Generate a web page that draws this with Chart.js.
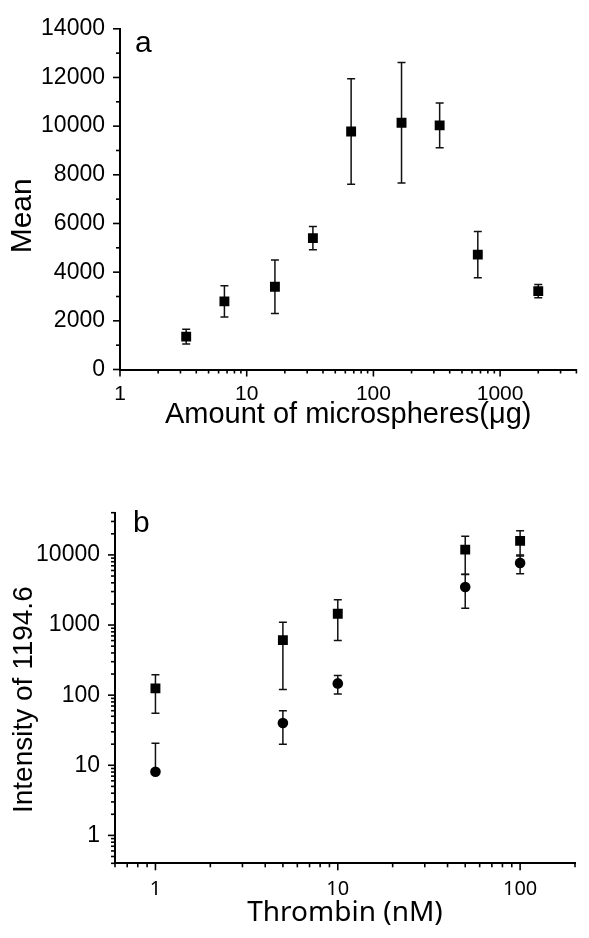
<!DOCTYPE html>
<html>
<head>
<meta charset="utf-8">
<script src="https://cdn.jsdelivr.net/npm/chart.js@4.4.0/dist/chart.umd.min.js"></script>
<style>
  html, body { margin: 0; padding: 0; background: #fff; }
  #wrap-a { position: absolute; left: 0; top: 0; width: 589px; height: 440px; }
  #wrap-b { position: absolute; left: 0; top: 440px; width: 589px; height: 498px; }
</style>
</head>
<body>
<div id="wrap-a"><canvas id="panel-a"></canvas></div>
<div id="wrap-b"><canvas id="panel-b"></canvas></div>
<script>
// panel a: mean vs amount of microspheres
var amount = [3.33, 6.67, 16.7, 33.3, 66.7, 166.7, 333.3, 666.7, 2000];
var meanValues = [1350, 2800, 3400, 5400, 9780, 10140, 10030, 4720, 3220];
var meanErrors = [300, 640, 1100, 480, 2170, 2480, 920, 950, 270];
var meanTicks = [0, 2000, 4000, 6000, 8000, 10000, 12000, 14000];
var amountTicks = [1, 10, 100, 1000];

// panel b: intensity vs thrombin
var thrombin = [1, 5, 10, 50, 100];
var squareValues = [125, 610, 1450, 11900, 15850];
var squareErrors = [70, 490, 850, 6600, 6200];
var circleValues = [8.1, 40, 147, 3490, 7690];
var circleErrors = [12.5, 20, 43, 1750, 2300];
var intensityTicks = [1, 10, 100, 1000, 10000];
var thrombinTicks = [1, 10, 100];

var arial = '"Liberation Sans", Arial, sans-serif';
var noto = '"Noto Sans", sans-serif';

// every 1..9 step of each decade between min and max
function logTicks(min, max) {
  var out = [];
  for (var e = Math.floor(Math.log10(min)); e <= Math.ceil(Math.log10(max)); e++) {
    for (var m = 1; m <= 9; m++) {
      var v = parseFloat((m * Math.pow(10, e)).toPrecision(6));
      if (v >= min * 0.999 && v <= max * 1.001) out.push({ value: v });
    }
  }
  return out;
}

function points(xs, ys) {
  return xs.map(function (x, i) { return { x: x, y: ys[i] }; });
}

var errorBars = {
  id: 'errorBars',
  beforeDatasetsDraw: function (chart) {
    var ctx = chart.ctx, xs = chart.scales.x, ys = chart.scales.y;
    var logY = ys.type === 'logarithmic';
    ctx.save();
    ctx.strokeStyle = '#111';
    ctx.lineWidth = 1.5;
    chart.data.datasets.forEach(function (ds) {
      ds.data.forEach(function (p, i) {
        var e = ds.errors[i];
        var noLow = logY && p.y - e <= 0;
        var px = xs.getPixelForValue(p.x);
        var hi = ys.getPixelForValue(p.y + e);
        var lo = noLow ? ys.getPixelForValue(p.y) : ys.getPixelForValue(p.y - e);
        ctx.beginPath();
        ctx.moveTo(px, hi); ctx.lineTo(px, lo);
        ctx.moveTo(px - 4, hi); ctx.lineTo(px + 4, hi);
        if (!noLow) { ctx.moveTo(px - 4, lo); ctx.lineTo(px + 4, lo); }
        ctx.stroke();
      });
    });
    ctx.restore();
  }
};

// outward ticks, long where there is a label
var tickMarks = {
  id: 'tickMarks',
  afterDraw: function (chart) {
    var ctx = chart.ctx, area = chart.chartArea;
    ctx.save();
    ctx.strokeStyle = '#000';
    ctx.lineWidth = 1.6;
    ['x', 'y'].forEach(function (id) {
      var sc = chart.scales[id];
      sc.ticks.forEach(function (t) {
        var len = t.label !== '' ? 7 : 4;
        var p = sc.getPixelForValue(t.value);
        ctx.beginPath();
        if (id === 'x') { ctx.moveTo(p, area.bottom); ctx.lineTo(p, area.bottom + len); }
        else { ctx.moveTo(area.left, p); ctx.lineTo(area.left - len, p); }
        ctx.stroke();
      });
    });
    ctx.restore();
  }
};

var panelLabel = {
  id: 'panelLabel',
  afterDraw: function (chart, args, opts) {
    var ctx = chart.ctx, area = chart.chartArea;
    ctx.save();
    ctx.fillStyle = '#000';
    ctx.font = '30px ' + arial;
    ctx.textBaseline = 'alphabetic';
    ctx.fillText(opts.text, area.left + opts.dx, area.top + opts.dy);
    ctx.restore();
  }
};

function axisBase() {
  return {
    grid: { display: false, drawTicks: false },
    border: { display: true, color: '#000', width: 2 }
  };
}

new Chart(document.getElementById('panel-a'), {
  type: 'scatter',
  data: {
    datasets: [{
      data: points(amount, meanValues),
      errors: meanErrors,
      pointStyle: 'rect',
      pointRadius: 7,
      backgroundColor: '#000',
      borderColor: '#000',
      borderWidth: 0
    }]
  },
  options: {
    responsive: true,
    maintainAspectRatio: false,
    animation: false,
    layout: { padding: { left: 0, top: 24, right: 1.5, bottom: 0 } },
    plugins: {
      legend: { display: false },
      tooltip: { enabled: false },
      panelLabel: { text: 'a', dx: 15, dy: 23 }
    },
    scales: {
      x: Object.assign(axisBase(), {
        type: 'logarithmic',
        min: 1,
        max: 4000,
        afterBuildTicks: function (s) { s.ticks = logTicks(1, 4000); },
        afterFit: function (s) { s.height = 70.5; },
        ticks: {
          autoSkip: false, maxRotation: 0, padding: 12.6, color: '#000',
          font: { family: arial, size: 21 },
          callback: function (v) { return amountTicks.indexOf(v) >= 0 ? String(v) : ''; }
        },
        title: {
          display: true, text: 'Amount of microspheres(μg)', color: '#000',
          font: { family: arial, size: 29 }, padding: { top: 0, bottom: 8 }
        }
      }),
      y: Object.assign(axisBase(), {
        type: 'linear',
        min: 0,
        max: 14000,
        afterFit: function (s) { s.width = 120; },
        ticks: {
          stepSize: 1000, autoSkip: false, padding: 15, color: '#000',
          font: { family: arial, size: 23 },
          callback: function (v) { return meanTicks.indexOf(v) >= 0 ? String(v) : ''; }
        },
        title: {
          display: true, text: 'Mean\u00a0\u00a0\u00a0\u00a0', color: '#000',
          font: { family: arial, size: 30 }, padding: { top: 5, bottom: 0 }
        }
      })
    }
  },
  plugins: [errorBars, tickMarks, panelLabel]
});

new Chart(document.getElementById('panel-b'), {
  type: 'scatter',
  data: {
    datasets: [{
      data: points(thrombin, squareValues),
      errors: squareErrors,
      pointStyle: 'rect',
      pointRadius: 7,
      backgroundColor: '#000',
      borderColor: '#000',
      borderWidth: 0
    }, {
      data: points(thrombin, circleValues),
      errors: circleErrors,
      pointStyle: 'circle',
      pointRadius: 5.3,
      backgroundColor: '#000',
      borderColor: '#000',
      borderWidth: 0
    }]
  },
  options: {
    responsive: true,
    maintainAspectRatio: false,
    animation: false,
    layout: { padding: { left: 0, top: 72.7, right: 2.3, bottom: 0 } },
    plugins: {
      legend: { display: false },
      tooltip: { enabled: false },
      panelLabel: { text: 'b', dx: 18, dy: 19 }
    },
    scales: {
      x: Object.assign(axisBase(), {
        type: 'logarithmic',
        min: 0.6,
        max: 200,
        afterBuildTicks: function (s) { s.ticks = logTicks(0.6, 200); },
        afterFit: function (s) { s.height = 74.7; },
        ticks: {
          autoSkip: false, maxRotation: 0, padding: 14, color: '#000',
          font: { family: noto, size: 20 },
          callback: function (v) { return thrombinTicks.indexOf(v) >= 0 ? String(v) : ''; }
        },
        title: {
          display: true, text: 'Thrombin (nM)', color: '#000',
          font: { family: noto, size: 28 }, padding: { top: 0, bottom: 8 }
        }
      }),
      y: Object.assign(axisBase(), {
        type: 'logarithmic',
        min: 0.4,
        max: 40000,
        afterBuildTicks: function (s) { s.ticks = logTicks(0.4, 40000); },
        afterFit: function (s) { s.width = 115; },
        ticks: {
          autoSkip: false, padding: 15, color: '#000',
          font: { family: arial, size: 23 },
          callback: function (v) { return intensityTicks.indexOf(v) >= 0 ? String(v) : ''; }
        },
        title: {
          display: true, text: 'Intensity of 1194.6\u00a0\u00a0\u00a0', color: '#000',
          font: { family: arial, size: 28 }, padding: { top: 7, bottom: 0 }
        }
      })
    }
  },
  plugins: [errorBars, tickMarks, panelLabel]
});
</script>
</body>
</html>
